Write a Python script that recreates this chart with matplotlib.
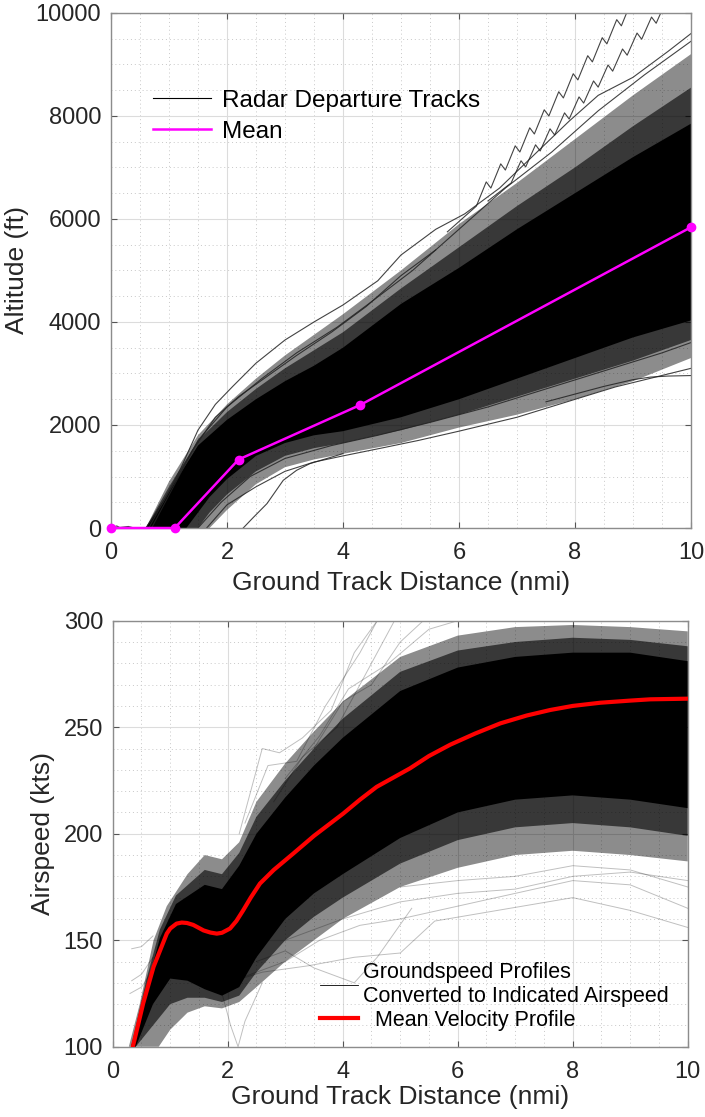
import numpy as np
import matplotlib.pyplot as plt
from matplotlib.ticker import MultipleLocator
from matplotlib.lines import Line2D

plt.rcParams['font.family'] = ['Liberation Sans', 'DejaVu Sans']

# ---------------- altitude profiles ----------------
MEAN_DIST = [0.0, 1.1, 2.2, 4.3, 10.0]
MEAN_ALT = [0, 0, 1330, 2390, 5840]

# envelopes of the track bundle: loose outer tracks, denser middle, solid core
ALT_FRINGE_HI_X = [0.6, 1.0, 1.5, 2.0, 2.5, 3.0, 3.5, 4.0, 5.0, 6.0, 7.0, 8.0, 9.0, 10.0]
ALT_FRINGE_HI = [0, 900, 1800, 2400, 2900, 3350, 3750, 4150, 5000, 5900, 6700, 7550, 8400, 9200]
ALT_MID_HI_X = [0.6, 1.0, 1.5, 2.0, 2.5, 3.0, 3.5, 4.0, 5.0, 6.0, 7.0, 8.0, 9.0, 10.0]
ALT_MID_HI = [0, 800, 1700, 2250, 2700, 3100, 3450, 3800, 4650, 5450, 6250, 7000, 7800, 8550]
ALT_CORE_HI_X = [0.6, 1.0, 1.5, 2.0, 2.5, 3.0, 3.5, 4.0, 5.0, 6.0, 7.0, 8.0, 9.0, 10.0]
ALT_CORE_HI = [0, 700, 1600, 2100, 2500, 2850, 3150, 3500, 4350, 5050, 5800, 6500, 7200, 7850]
ALT_CORE_LO_X = [0.6, 1.3, 1.7, 2.0, 2.5, 3.0, 3.5, 4.0, 5.0, 6.0, 7.0, 8.0, 9.0, 10.0]
ALT_CORE_LO = [0, 0, 600, 950, 1400, 1650, 1800, 1880, 2150, 2500, 2900, 3300, 3700, 4030]
ALT_MID_LO_X = [0.6, 1.5, 1.7, 2.0, 2.5, 3.0, 3.5, 4.0, 5.0, 6.0, 7.0, 8.0, 9.0, 10.0]
ALT_MID_LO = [0, 0, 300, 650, 1100, 1400, 1550, 1650, 1900, 2200, 2550, 2900, 3250, 3650]
ALT_FRINGE_LO_X = [0.6, 1.7, 2.0, 2.5, 3.0, 3.5, 4.0, 5.0, 6.0, 7.0, 8.0, 9.0, 10.0]
ALT_FRINGE_LO = [0, 0, 350, 850, 1180, 1330, 1440, 1650, 1950, 2200, 2500, 2850, 3300]

# individual tracks at the edges of the bundle
ALT_TRACKS = [
    ([0.0, 0.1, 0.15, 0.3, 0.4, 0.6], [0, 40, 10, 30, 0, 0]),
    ([0.6, 0.9, 1.2, 1.5, 1.8, 2.1, 2.5, 3.0, 3.5, 4.0, 4.6, 5.0, 5.6, 6.1, 6.7, 7.3, 7.9, 8.4, 9.0, 9.6, 10.0],
     [0, 500, 1150, 1900, 2400, 2750, 3200, 3650, 4000, 4330, 4800, 5300, 5800, 6100, 6600, 7250, 7900, 8400, 8750, 9250, 9600]),
    ([0.65, 1.0, 1.4, 1.8, 2.2, 2.7, 3.2, 3.8, 4.4, 5.0, 5.6],
     [0, 700, 1500, 2150, 2550, 2950, 3350, 3800, 4300, 4900, 5400]),
    ([0.7, 1.1, 1.5, 2.0, 2.6, 3.2, 3.9, 4.5, 5.2, 6.0, 6.8, 7.6, 8.4, 9.2, 10.0],
     [0, 850, 1700, 2350, 2900, 3400, 3900, 4400, 5000, 5800, 6600, 7300, 8100, 8800, 9450]),
    ([5.8, 6.30, 6.47, 6.55, 6.72, 6.80, 6.97, 7.05, 7.22, 7.30, 7.47, 7.55, 7.72, 7.80, 7.97,
      8.05, 8.22, 8.30, 8.47, 8.55, 8.72, 8.80, 8.97],
     [5750, 6250, 6720, 6600, 7070, 6950, 7420, 7300, 7770, 7650, 8120, 8000, 8470, 8350, 8820,
      8700, 9170, 9050, 9520, 9400, 9870, 9750, 10220]),
    ([6.5, 6.90, 7.07, 7.15, 7.32, 7.40, 7.57, 7.65, 7.82, 7.90, 8.07, 8.15, 8.32, 8.40, 8.57,
      8.65, 8.82, 8.90, 9.07, 9.15, 9.32, 9.40, 9.57],
     [6350, 6700, 7130, 7010, 7440, 7320, 7750, 7630, 8060, 7940, 8370, 8250, 8680, 8560, 8990,
      8870, 9300, 9180, 9610, 9490, 9920, 9800, 10230]),
    ([2.28, 2.45, 2.69, 2.97, 3.2, 3.43, 4.0], [0, 200, 474, 926, 1120, 1250, 1444]),
    ([1.65, 2.0, 2.5, 3.0, 3.5, 4.0, 4.7, 5.3, 6.0, 7.0, 8.15, 8.7, 10.0],
     [0, 450, 800, 1100, 1280, 1400, 1560, 1700, 1880, 2150, 2550, 2740, 3100]),
    ([1.5, 1.9, 2.4, 3.0, 3.8, 4.6, 5.5, 6.5, 7.5, 8.5, 9.5, 10.0],
     [0, 500, 1000, 1350, 1600, 1800, 2050, 2350, 2700, 3050, 3400, 3600]),
    ([7.5, 8.0, 8.5, 9.0, 9.3, 9.6, 10.0], [2450, 2600, 2750, 2880, 2930, 2950, 2960]),
]

# ---------------- airspeed profiles ----------------
SPD_MEAN_X = [0.35, 0.53, 0.71, 0.94, 1.0, 1.11, 1.2, 1.29, 1.4, 1.58, 1.7, 1.81, 1.9, 2.04, 2.15,
              2.27, 2.4, 2.56, 2.8, 3.14, 3.5, 4.01, 4.3, 4.59, 5.17, 5.5, 5.87, 6.3, 6.74, 7.2,
              7.61, 8.0, 8.48, 9.0, 9.35, 10.0]
SPD_MEAN = [100, 120.4, 137.5, 153.1, 155.5, 157.8, 158.3, 158.1, 157.2, 154.6, 153.6, 153.1, 153.5,
            155.5, 159, 164.1, 170, 176.6, 183, 190.7, 199, 209.5, 216, 222, 230.7, 236.5, 241.8,
            247, 251.8, 255.5, 258.1, 260, 261.5, 262.5, 263.1, 263.4]

SPD_FRINGE_HI_X = [0.28, 0.47, 0.71, 0.94, 1.3, 1.6, 1.9, 2.2, 2.5, 3.0, 3.5, 4.0, 5.0, 6.0, 7.0, 8.0, 9.0, 10.0]
SPD_FRINGE_HI = [100, 120, 150, 166, 181, 190, 188, 196, 215, 233, 248, 262, 283, 293, 297, 298, 297, 295]
SPD_MID_HI_X = [0.32, 0.59, 0.82, 1.1, 1.6, 1.9, 2.2, 2.5, 3.0, 3.5, 4.0, 5.0, 6.0, 7.0, 8.0, 9.0, 10.0]
SPD_MID_HI = [100, 132, 155, 171, 183, 181, 191, 208, 225, 240, 254, 276, 286, 290, 292, 291, 288]
SPD_CORE_HI_X = [0.32, 0.59, 0.82, 1.1, 1.6, 1.9, 2.2, 2.5, 3.0, 3.5, 4.0, 5.0, 6.0, 7.0, 8.0, 9.0, 10.0]
SPD_CORE_HI = [100, 128, 151, 167, 176, 174, 185, 200, 217, 232, 245, 267, 278, 283, 285, 285, 281]
SPD_CORE_LO_X = [0.4, 0.7, 1.0, 1.3, 1.6, 1.9, 2.2, 2.5, 3.0, 3.5, 4.0, 5.0, 6.0, 7.0, 8.0, 9.0, 10.0]
SPD_CORE_LO = [100, 120, 132, 131, 127, 124, 128, 142, 160, 172, 181, 198, 210, 216, 218, 216, 212]
SPD_MID_LO_X = [0.4, 0.7, 1.0, 1.3, 1.6, 1.9, 2.2, 2.5, 3.0, 3.5, 4.0, 5.0, 6.0, 7.0, 8.0, 9.0, 10.0]
SPD_MID_LO = [100, 110, 120, 123, 123, 121, 124, 135, 150, 161, 170, 186, 197, 203, 205, 203, 199]
SPD_FRINGE_LO_X = [0.45, 0.8, 1.0, 1.3, 1.6, 1.9, 2.2, 2.5, 3.0, 3.5, 4.0, 5.0, 6.0, 7.0, 8.0, 9.0, 10.0]
SPD_FRINGE_LO = [100, 100, 108, 116, 119, 118, 121, 128, 140, 150, 160, 175, 184, 190, 192, 190, 187]

SPD_TRACKS = [
    ([2.2, 2.6, 2.9, 3.3, 3.8, 4.2, 4.6], [200, 240, 238, 245, 258, 285, 300]),
    ([2.3, 2.7, 3.2, 3.7, 4.3, 4.6], [205, 232, 234, 260, 285, 300]),
    ([2.8, 3.3, 3.9, 4.4, 4.9], [215, 236, 250, 275, 300]),
    ([3.5, 4.0, 4.5, 5.0, 5.4], [240, 262, 270, 290, 300]),
    ([3.0, 3.6, 4.1, 4.8, 5.5, 6.0], [226, 246, 268, 280, 296, 300]),
    ([1.8, 2.2, 3.0, 3.6, 4.3, 5.0, 6.0, 7.0, 8.0, 9.0, 10.0], [128, 132, 140, 150, 157, 160, 166, 172, 178, 176, 165]),
    ([2.0, 2.6, 3.4, 4.2, 5.0, 5.6, 8.0, 9.0, 10.0], [130, 135, 138, 142, 144, 159, 170, 164, 156]),
    ([1.9, 2.05, 2.18, 2.3, 2.6], [125, 110, 100, 112, 130]),
    ([0.33, 0.5, 0.7], [146, 147, 152]),
    ([0.33, 0.5, 0.7], [131, 134, 142]),
    ([0.3, 0.5, 0.8], [125, 128, 140]),
    ([3.0, 4.0, 5.0, 6.0, 7.0, 8.0, 9.0, 10.0], [150, 160, 168, 172, 174, 180, 182, 178]),
    ([5.0, 6.0, 7.0, 8.0, 9.0, 10.0], [175, 178, 180, 185, 183, 175]),
    ([2.5, 3.0, 3.5, 4.2, 4.6, 5.2], [140, 145, 137, 130, 142, 165]),
]

TXT = '#262626'


def style_axes(ax, ymaj, ymin):
    ax.set_axisbelow(True)
    ax.xaxis.set_major_locator(MultipleLocator(2))
    ax.xaxis.set_minor_locator(MultipleLocator(0.5))
    ax.yaxis.set_major_locator(MultipleLocator(ymaj))
    ax.yaxis.set_minor_locator(MultipleLocator(ymin))
    ax.grid(which='major', color='#dcdcdc', lw=0.8)
    ax.grid(which='minor', color='#c8c8c8', lw=0.7, ls=(0, (1, 3)))
    ax.tick_params(which='both', direction='in', top=True, right=True,
                   labelsize=17, labelcolor=TXT, color='#555555')
    ax.tick_params(axis='x', pad=10)
    ax.tick_params(axis='y', pad=7)
    ax.tick_params(which='major', length=4, width=0.8)
    ax.tick_params(which='minor', length=0)
    for sp in ax.spines.values():
        sp.set_color('#8c8c8c')
        sp.set_linewidth(1.0)


def band(ax, xh, yh, xl, yl, alpha):
    xs = np.r_[xh, xl[::-1]]
    ys = np.r_[yh, yl[::-1]]
    ax.fill(xs, ys, color='k', alpha=alpha, lw=0)


fig = plt.figure(figsize=(7.05, 11.17), dpi=100)
ax1 = fig.add_axes([0.1574, 0.5273, 0.8227, 0.4611])
ax2 = fig.add_axes([0.1599, 0.0629, 0.8156, 0.3814])

# --- top: altitude
band(ax1, ALT_FRINGE_HI_X, ALT_FRINGE_HI, ALT_FRINGE_LO_X, ALT_FRINGE_LO, 0.45)
band(ax1, ALT_MID_HI_X, ALT_MID_HI, ALT_MID_LO_X, ALT_MID_LO, 0.6)
band(ax1, ALT_CORE_HI_X, ALT_CORE_HI, ALT_CORE_LO_X, ALT_CORE_LO, 1.0)
for tx, ty in ALT_TRACKS:
    ax1.plot(tx, ty, color='#222222', lw=0.8, alpha=0.85)
ax1.plot(MEAN_DIST, MEAN_ALT, color='#ff00ff', lw=1.8, marker='o', ms=6, clip_on=False, zorder=5)

ax1.set_xlim(0, 10)
ax1.set_ylim(0, 10000)
style_axes(ax1, 2000, 500)
ax1.set_xlabel('Ground Track Distance (nmi)', fontsize=19, color=TXT, labelpad=5)
ax1.set_ylabel('Altitude (ft)', fontsize=19, color=TXT)
ax1.yaxis.set_label_coords(-0.141, 0.5)

h1 = [Line2D([], [], color='k', lw=0.8), Line2D([], [], color='#ff00ff', lw=1.8)]
ax1.legend(h1, ['Radar Departure Tracks', 'Mean'], loc='upper left', bbox_to_anchor=(0.072, 0.851),
           frameon=False, fontsize=17.5, handlelength=2.4, handletextpad=0.45, labelspacing=0.38,
           borderpad=0, borderaxespad=0, labelcolor='k')

# --- bottom: airspeed
band(ax2, SPD_FRINGE_HI_X, SPD_FRINGE_HI, SPD_FRINGE_LO_X, SPD_FRINGE_LO, 0.45)
band(ax2, SPD_MID_HI_X, SPD_MID_HI, SPD_MID_LO_X, SPD_MID_LO, 0.6)
band(ax2, SPD_CORE_HI_X, SPD_CORE_HI, SPD_CORE_LO_X, SPD_CORE_LO, 1.0)
for tx, ty in SPD_TRACKS:
    ax2.plot(tx, ty, color='k', lw=0.7, alpha=0.25)
ax2.plot(SPD_MEAN_X, SPD_MEAN, color='#ff0000', lw=3, zorder=5)

ax2.set_xlim(0, 10)
ax2.set_ylim(100, 300)
style_axes(ax2, 50, 10)
ax2.set_xlabel('Ground Track Distance (nmi)', fontsize=19, color=TXT, labelpad=2)
ax2.set_ylabel('Airspeed (kts)', fontsize=19, color=TXT)
ax2.yaxis.set_label_coords(-0.100, 0.5)

h2 = [Line2D([], [], color='k', lw=0.6), Line2D([], [], color='#ff0000', lw=3)]
ax2.legend(h2, ['Groundspeed Profiles\nConverted to Indicated Airspeed', '  Mean Velocity Profile'],
           loc='lower left', bbox_to_anchor=(0.3605, 0.037), frameon=False, fontsize=15.5,
           handlelength=1.76, handletextpad=0.23, labelspacing=0.15, borderpad=0, borderaxespad=0,
           labelcolor='k')

fig.savefig('out.png', dpi=100)
